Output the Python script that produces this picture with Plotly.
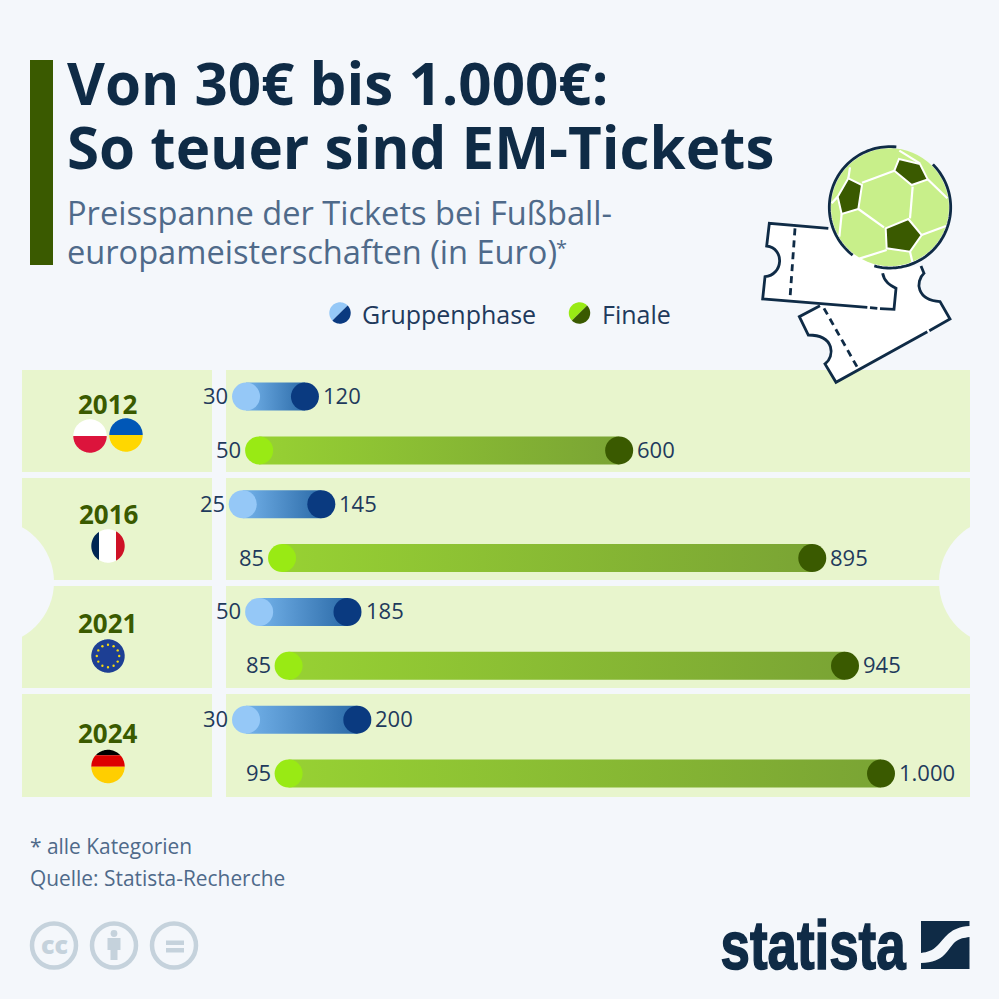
import re
import numpy as np
import plotly.graph_objects as go

# ---------- data ----------
years = ["2012", "2016", "2021", "2024"]
group_low = [30, 25, 50, 30]
group_high = [120, 145, 185, 200]
final_low = [50, 85, 95, 95]      # 2021 start is drawn near 95 in the source, labelled 85
final_high = [600, 895, 945, 1000]
group_low_labels = ["30", "25", "50", "30"]
group_high_labels = ["120", "145", "185", "200"]
final_low_labels = ["50", "85", "85", "95"]
final_high_labels = ["600", "895", "945", "1.000"]

# ---------- style ----------
BG = "#f4f7fb"
PANEL = "#e8f5cd"
NAVY = "#0f2b46"
SUB = "#4f6a8a"
LABEL = "#1f3a5c"
DGREEN = "#3a5a00"
FONT = "Open Sans"
W = 999.0


def X(x):
    return x / W


def Y(y):
    return 1 - y / W


def P(d):
    """Turn an SVG path written in page pixels into paper coordinates."""
    def sub(m):
        return f"{X(float(m.group(1))):.5f},{Y(float(m.group(2))):.5f}"
    return re.sub(r"(-?[\d.]+),(-?[\d.]+)", sub, d)


shapes = []
ann = []


def poly(points, fill, line=None, lw=0):
    d = "M" + " L".join(f"{x:.2f},{y:.2f}" for x, y in points) + " Z"
    shapes.append(dict(type="path", xref="paper", yref="paper", path=P(d), fillcolor=fill,
                       line=dict(color=line or fill, width=lw), layer="above"))


def rect(x0, y0, x1, y1, fill, layer="below"):
    shapes.append(dict(type="rect", xref="paper", yref="paper", x0=X(x0), x1=X(x1), y0=Y(y0), y1=Y(y1),
                       fillcolor=fill, line=dict(width=0), layer=layer))


def circle(cx, cy, r, fill, line=None, lw=0, layer="above"):
    shapes.append(dict(type="circle", xref="paper", yref="paper", x0=X(cx - r), x1=X(cx + r),
                       y0=Y(cy - r), y1=Y(cy + r), fillcolor=fill,
                       line=dict(color=line or fill, width=lw), layer=layer))


def stroke(d, color=NAVY, lw=2.8, dash=None, fill=None):
    s = dict(type="path", xref="paper", yref="paper", path=P(d), layer="above",
             line=dict(color=color, width=lw, dash=dash or "solid"))
    if fill:
        s["fillcolor"] = fill
    shapes.append(s)


def text(x, y, s, size, color, anchor="left", weight=None, family=FONT):
    ann.append(dict(xref="paper", yref="paper", x=X(x), y=Y(y), text=s, showarrow=False,
                    xanchor=anchor, yanchor="middle", align=anchor, borderpad=0, borderwidth=0,
                    font=dict(family=family, size=size, color=color, weight=weight or 400)))


def band(cx, cy, r, fill, y0=None, y1=None, x0=None, x1=None):
    t = np.linspace(0, 2 * np.pi, 90)
    xs = cx + r * np.cos(t)
    ys = cy + r * np.sin(t)
    if y0 is not None:
        ys = np.clip(ys, y0, y1)
    if x0 is not None:
        xs = np.clip(xs, x0, x1)
    poly(list(zip(xs, ys)), fill)


def zk(zx, zy):
    """Reference-crop coordinates of the illustration to page pixels."""
    return 740 + zx / 3, 140 + zy / 3


def zpath(d):
    def sub(m):
        x, y = zk(float(m.group(1)), float(m.group(2)))
        return f"{x:.2f},{y:.2f}"
    return re.sub(r"(-?[\d.]+),(-?[\d.]+)", sub, d)


# ---------- panels ----------
for top, bottom in [(370, 472), (478, 580), (586, 688), (694, 797)]:
    rect(22, top, 212, bottom, PANEL)
    rect(226, top, 970, bottom, PANEL)
circle(-9, 582, 63, BG, layer="below")
circle(1003, 582, 64, BG, layer="below")

# ---------- header ----------
rect(30, 60, 53, 265, DGREEN)
text(67, 82.5, "Von 30€ bis 1.000€:", 58.3, NAVY, weight=700)
text(67, 146.5, "So teuer sind EM-Tickets", 58.3, NAVY, weight=700)
text(67, 212, "Preisspanne der Tickets bei Fußball-", 32.6, SUB)
text(67, 251.5, "europameisterschaften (in Euro)", 32.6, SUB)
text(556, 248, "*", 20, SUB)


# ---------- legend ----------
def split_dot(cx, cy, r, c1, c2):
    t = np.linspace(0, np.pi, 40)
    a = t + np.pi * 0.75
    poly(list(zip(cx + r * np.cos(a), cy + r * np.sin(a))), c1)
    a = t - np.pi * 0.25
    poly(list(zip(cx + r * np.cos(a), cy + r * np.sin(a))), c2)


split_dot(340, 313, 10.7, "#95c8f7", "#0a3a80")
text(362, 314, "Gruppenphase", 25, LABEL)
split_dot(579.5, 313, 10.7, "#99ea14", "#3a5a00")
text(602, 314, "Finale", 25, LABEL)

# ---------- illustration: tickets ----------
t2 = ("M178,530 L238,497 L440,385 L545,378 L548,405 C525,425 530,480 600,485 L630,537 L288,727 L255,672 "
      "C285,650 280,585 205,585 Z")
stroke(zpath(t2), color="rgba(0,0,0,0)", lw=0, fill="white")
stroke(zpath("M240,497 L178,530 L205,585 C285,585 285,650 255,672 L288,727 L562,575"))
stroke(zpath("M568,572 L630,537 L600,485 C530,480 525,425 552,400 L543,378"))
stroke(zpath("M252,505 L352,682"), dash="7px,5px")
t1 = ("M88,250 L270,265 L420,300 L428,400 C432,425 450,435 468,445 L462,508 L68,477 L75,410 "
      "C130,405 135,325 80,318 Z")
stroke(zpath(t1), color="rgba(0,0,0,0)", lw=0, fill="white")
stroke(zpath("M265,265 L88,250 L80,318 C135,325 130,405 75,410 L68,477 L382,502"))
stroke(zpath("M390,503 L412,505"))
stroke(zpath("M420,506 L462,508 L468,445 C450,435 432,425 428,400"))
stroke(zpath("M165,265 L150,475"), dash="7px,5px")

# ---------- illustration: ball ----------
bx, by = zk(450, 202)
circle(bx, by, 59, "#c8ef8a")
for d in ["M463,92 L366,128", "M355,207 L432,262", "M518,140 L510,235", "M305,222 L298,290",
          "M440,330 L358,356", "M510,335 L518,370", "M545,285 L618,258", "M563,118 L622,175",
          "M540,70 L478,32", "M325,115 L330,82", "M293,170 L275,190"]:
    stroke(zpath(d), color="white", lw=2.2)
for pent in [[(477, 57), (540, 72), (563, 118), (515, 135), (463, 92)],
             [(325, 115), (366, 135), (355, 207), (305, 222), (293, 170)],
             [(505, 237), (545, 285), (510, 335), (440, 325), (437, 265)]]:
    poly([zk(*p) for p in pent], DGREEN, "white", 2)


def arc(a0, a1, r=60.7):
    t = np.radians(np.linspace(a0, a1, 60))
    return "M" + " L".join(f"{bx + r * np.cos(v):.2f},{by + r * np.sin(v):.2f}" for v in t)


stroke(arc(-84, -232))
stroke(arc(105, -45))

# ---------- flags ----------
band(90, 436, 16.7, "#ffffff", 410, 436)
band(90, 436, 16.7, "#dc143c", 436, 460)
band(126, 435, 16.7, "#0057b7", 410, 435)
band(126, 435, 16.7, "#ffd700", 435, 460)
band(108, 546, 16.7, "#ffffff", x0=99, x1=117)
band(108, 546, 16.7, "#002654", x0=85, x1=99)
band(108, 546, 16.7, "#ce1126", x0=116, x1=130)
band(108, 656, 16.7, "#1d3f94")
for a in np.arange(0, 360, 30):
    circle(108 + 11.2 * np.cos(np.radians(a)), 656 + 11.2 * np.sin(np.radians(a)), 1.2, "#f6d90f")
band(108, 766.5, 16.7, "#000000", 745, 755.3)
band(108, 766.5, 16.7, "#dd0000", 755.3, 766.8)
band(108, 766.5, 16.7, "#ffce00", 766.8, 790)

for yr, x, y in zip(years, [108, 109, 107, 108], [404, 514, 623, 733]):
    text(x, y, yr, 26, DGREEN, anchor="center", weight=700)

# ---------- footer ----------
text(30, 846, "* alle Kategorien", 20.9, SUB)
text(30, 878, "Quelle: Statista-Recherche", 20.9, SUB)
GREY = "#c5d2dc"
for cx in [54, 114, 174]:
    circle(cx, 945.5, 22, "rgba(0,0,0,0)", GREY, 4.5)
text(54, 944, "cc", 25, GREY, anchor="center", weight=800)
circle(114, 933.5, 3.4, GREY)
poly([(107.5, 938), (120.5, 938), (120.5, 950), (117.5, 950), (117.5, 960), (110.5, 960), (110.5, 950), (107.5, 950)], GREY)
rect(166, 940.5, 184, 945, GREY, "above")
rect(166, 948, 184, 952.5, GREY, "above")

# statista logo
text(813, 945, "statista", 68, NAVY, anchor="center", weight=700, family="Liberation Sans")
shapes.append(dict(type="path", xref="paper", yref="paper", layer="above", fillcolor=NAVY, line=dict(width=0),
                   path=P("M921,921 L969.5,921 L969.5,926 C950,927 945,938 938,945 C932,951 928,952 921,953 Z")))
shapes.append(dict(type="path", xref="paper", yref="paper", layer="above", fillcolor=NAVY, line=dict(width=0),
                   path=P("M969.5,937 L969.5,969 L921,969 L921,963 C945,963 948,948 955,942 C960,938 964,938 969.5,937 Z")))

# ---------- traces ----------
fig = go.Figure()
BAR_H = 14 / 53.86
series = [
    ("Gruppenphase", group_low, group_high, group_low_labels, group_high_labels, 0,
     "#72b1e9", "#2c6ba8", "#95c8f7", "#0a3a80"),
    ("Finale", final_low, final_high, final_low_labels, final_high_labels, 1,
     "#97d133", "#7aa434", "#99ea14", "#3a5a00"),
]
for name, lows, highs, low_txt, high_txt, off, c0, c1, dot0, dot1 in series:
    rows = [2 * i + off for i in range(len(years))]
    for row, lo, hi, tl, th in zip(rows, lows, highs, low_txt, high_txt):
        fig.add_trace(go.Scatter(
            x=[lo, hi, hi, lo, lo],
            y=[row - BAR_H, row - BAR_H, row + BAR_H, row + BAR_H, row - BAR_H],
            mode="lines", fill="toself", line=dict(width=0), hoverinfo="skip", showlegend=False,
            fillgradient=dict(type="horizontal", colorscale=[[0, c0], [1, c1]], start=lo, stop=hi)))
        for v, s, shift, anc in [(lo, tl, -18, "right"), (hi, th, 18, "left")]:
            ann.append(dict(xref="x", yref="y", x=v, y=row, text=s, showarrow=False, xanchor=anc,
                            yanchor="middle", xshift=shift, yshift=1.5, borderpad=0, borderwidth=0,
                            font=dict(family=FONT, size=22, color=LABEL)))
    for vals, col, suffix in [(lows, dot0, " (min)"), (highs, dot1, " (max)")]:
        fig.add_trace(go.Scatter(
            x=vals, y=rows, mode="markers", marker=dict(size=28, color=col),
            name=name + suffix, cliponaxis=False, showlegend=False))

fig.update_layout(
    width=999, height=999, autosize=False,
    margin=dict(l=0, r=0, t=0, b=0, pad=0),
    paper_bgcolor=BG, plot_bgcolor="rgba(0,0,0,0)",
    showlegend=False, shapes=shapes, annotations=ann,
    font=dict(family=FONT),
    xaxis=dict(domain=[226.4 / W, 970 / W], range=[0, (970 - 226.4) / 0.6546], visible=False, fixedrange=True),
    yaxis=dict(domain=[Y(800.5), Y(369.6)], range=[7.5, -0.5], visible=False, fixedrange=True),
)
post = """
document.body.style.margin='0';document.body.style.background='%s';document.body.style.overflow='hidden';
document.querySelectorAll('.annotation-text').forEach(function(t){
  if(t.textContent==='statista'){
    var cx=parseFloat(t.getAttribute('x'));
    var old=t.getAttribute('transform')||'';
    t.setAttribute('transform',old+' translate('+cx+',0) scale(0.777,1) translate('+(-cx)+',0)');
    t.style.stroke='%s';t.style.strokeWidth='1.6px';
  }
});
""" % (BG, NAVY)
fig.write_html("out.html", config=dict(displayModeBar=False), post_script=post)
